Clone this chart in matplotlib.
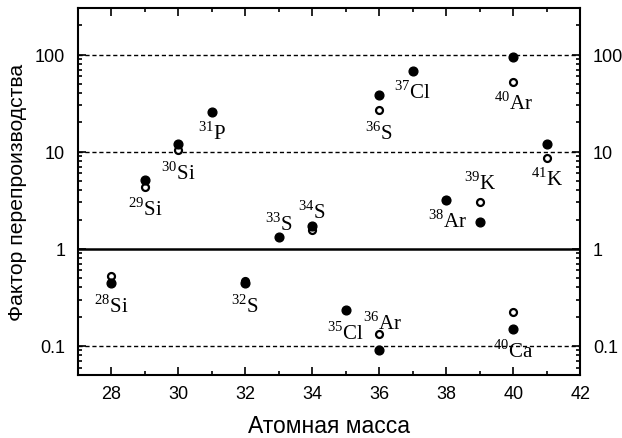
import numpy as np
import matplotlib
matplotlib.use("Agg")
import matplotlib.pyplot as plt
from matplotlib.ticker import FixedLocator, LogLocator, NullFormatter, MultipleLocator

plt.rcParams['font.family'] = ['Liberation Sans', 'DejaVu Sans']
plt.rcParams['mathtext.fontset'] = 'custom'
plt.rcParams['mathtext.rm'] = 'Liberation Serif'

# Данные: массовые числа и факторы перепроизводства
mass_filled = [28, 29, 30, 31, 32, 33, 34, 35, 36, 36, 37, 38, 39, 40, 40, 41]
val_filled = [0.44, 5.1, 11.9, 25.6, 0.45, 1.31, 1.73, 0.235, 0.09, 38.7, 67, 3.2, 1.87, 94.6, 0.149, 12.0]

mass_open = [28, 29, 30, 32, 34, 36, 36, 38, 39, 40, 40, 41]
val_open = [0.53, 4.3, 10.3, 0.47, 1.55, 0.133, 27.1, 3.15, 3.0, 51.7, 0.222, 8.6]

# Подписи изотопов
lab_num = ['28', '29', '30', '31', '32', '33', '34', '35', '36', '36', '37', '38', '39', '40', '40', '41']
lab_el = ['Si', 'Si', 'Si', 'P', 'S', 'S', 'S', 'Cl', 'Ar', 'S', 'Cl', 'Ar', 'K', 'Ar', 'Ca', 'K']
lab_x = [28.0, 29.0, 30.0, 31.0, 32.0, 33.0, 34.0, 35.0, 36.1, 36.0, 37.0, 38.05, 39.0, 40.0, 40.0, 41.0]
lab_y = [0.27, 2.65, 6.2, 16, 0.27, 1.87, 2.48, 0.14, 0.18, 16, 42.8, 1.99, 4.9, 33, 0.091, 5.4]

fig, ax = plt.subplots(figsize=(6.22, 4.39), dpi=100)
fig.subplots_adjust(left=0.125, right=0.933, top=0.979, bottom=0.143)

ax.set_yscale('log')
ax.set_xlim(27, 42)
ax.set_ylim(0.05, 300)

# Линии сетки
for v in [0.1, 10, 100]:
    ax.axhline(v, color='black', linestyle=(0, (3, 2)), linewidth=1.0, zorder=1)
ax.axhline(1, color='black', linestyle='-', linewidth=1.8, zorder=1)

ax.plot(mass_open, val_open, 'o', markerfacecolor='white', markeredgecolor='black',
        markeredgewidth=1.6, markersize=5, zorder=3)
ax.plot(mass_filled, val_filled, 'o', color='black', markersize=6.3, zorder=4)

for x, y, n, e in zip(lab_x, lab_y, lab_num, lab_el):
    ax.text(x, y, r'$^{' + n + r'}\mathrm{' + e + '}$', ha='center', va='center',
            fontsize=15, zorder=5)

ax.xaxis.set_major_locator(MultipleLocator(2))
ax.xaxis.set_minor_locator(MultipleLocator(1))
ax.yaxis.set_major_locator(FixedLocator([0.1, 1, 10, 100]))
ax.yaxis.set_minor_locator(LogLocator(base=10, subs=np.arange(2, 10)))
ax.yaxis.set_minor_formatter(NullFormatter())
ax.set_yticklabels(['0.1', '1', '10', '100'])

ax.tick_params(which='both', direction='in', top=True, right=True, labelright=True,
               labelsize=13, width=1.2)
ax.tick_params(which='major', length=6)
ax.tick_params(which='minor', length=3)
ax.tick_params(axis='y', pad=9)
ax.tick_params(axis='x', pad=7)
for s in ax.spines.values():
    s.set_linewidth(1.5)

ax.set_xlabel('Атомная масса', fontsize=16.5, labelpad=9)
ax.set_ylabel('Фактор перепроизводства', fontsize=15.2, labelpad=6)

fig.savefig('out.png', dpi=100)
